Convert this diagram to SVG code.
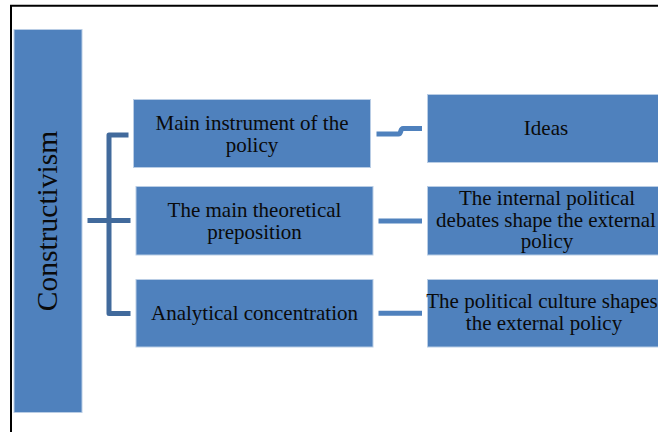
<svg xmlns="http://www.w3.org/2000/svg" width="658" height="432" viewBox="0 0 658 432">
  <style>
    .box { fill: #4f81bd; stroke: #b9cde5; stroke-width: 1; }
    .lbl { font-family: "Liberation Serif", "Times New Roman", serif; font-size: 21px; fill: #0a0a0a; text-anchor: middle; }
    .title { font-family: "Liberation Serif", "Times New Roman", serif; font-size: 29.5px; fill: #0a0a0a; text-anchor: middle; }
    .bracket { fill: none; stroke: #416a9c; stroke-width: 5; stroke-linejoin: round; }
    .link { fill: none; stroke: #4f81bd; stroke-width: 5; }
  </style>

  <rect width="658" height="432" fill="#ffffff"/>

  <!-- page frame -->
  <path d="M11,432 V5.7 H658" fill="none" stroke="#000" stroke-width="2"/>

  <!-- root node -->
  <g id="root">
    <rect class="box" x="14" y="29.5" width="68" height="383"/>
    <text class="title" transform="translate(56.5,221) rotate(-90)">Constructivism</text>
  </g>

  <!-- category nodes -->
  <g id="cat-instrument">
    <rect class="box" x="133.5" y="99.5" width="237" height="68"/>
    <text class="lbl" x="252" y="130">Main instrument of the</text>
    <text class="lbl" x="252" y="152">policy</text>
  </g>
  <g id="cat-preposition">
    <rect class="box" x="136" y="186.5" width="237" height="68.5"/>
    <text class="lbl" x="254.5" y="216.5">The main theoretical</text>
    <text class="lbl" x="254.5" y="238.5">preposition</text>
  </g>
  <g id="cat-concentration">
    <rect class="box" x="136" y="279.5" width="237" height="67.5"/>
    <text class="lbl" x="254.5" y="320">Analytical concentration</text>
  </g>

  <!-- value nodes -->
  <g id="val-ideas">
    <rect class="box" x="427.5" y="94.5" width="240" height="68"/>
    <text class="lbl" x="546" y="135">Ideas</text>
  </g>
  <g id="val-debates">
    <rect class="box" x="427.5" y="186.5" width="240" height="68.5"/>
    <text class="lbl" x="547" y="205">The internal political</text>
    <text class="lbl" x="546" y="226.7">debates shape the external</text>
    <text class="lbl" x="547" y="248.3">policy</text>
  </g>
  <g id="val-culture">
    <rect class="box" x="427.5" y="279.5" width="240" height="67.5"/>
    <text class="lbl" x="542" y="308.3">The political culture shapes</text>
    <text class="lbl" x="544" y="330">the external policy</text>
  </g>

  <!-- connectors -->
  <g id="connectors">
    <path class="bracket" d="M128.5,135 H109 V313.5 H130.5"/>
    <path class="bracket" d="M87.5,220.5 H130.5"/>
    <path class="link" d="M376.5,134 H398.5 C401.5,134 400,128.5 403,128.5 H422"/>
    <path class="link" d="M378.5,221 H422"/>
    <path class="link" d="M378.5,313.3 H422"/>
  </g>
</svg>
